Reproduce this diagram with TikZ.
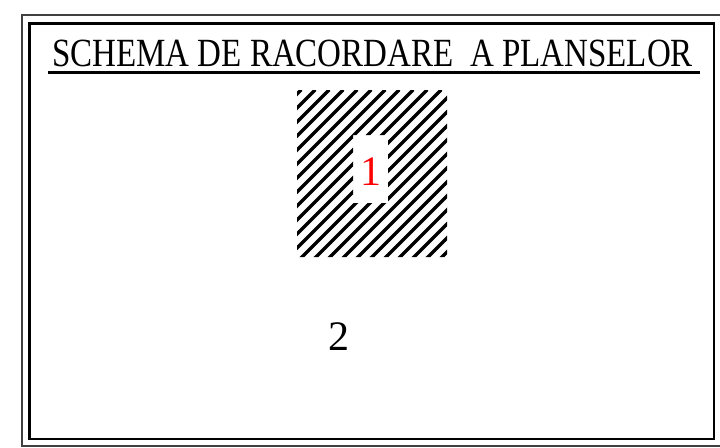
\documentclass[tikz,border=0pt]{standalone}
\usepackage{fontspec}
\setmainfont{Liberation Serif}
\usepackage[dvipsnames]{xcolor}
\tikzset{
	cifra/.style={font=\fontsize{42}{44}\selectfont, inner sep=0pt},
	hasura/.style={line width=3.2pt, line cap=round}
}
\begin{document}
\begin{tikzpicture}[x=1pt,y=-1pt]
		\useasboundingbox (0,0) rectangle (720,447);
		% chenar
		\draw[black!75, line width=1.2pt] (22,15) rectangle (726,446);
		\draw[line width=2.2pt] (29.5,23.5) rectangle (714,439);
		% titlu
		\node[font=\fontsize{40}{42}\selectfont, anchor=base, inner sep=0pt] (titlu) at (372.5,66) {\scalebox{0.825}[1]{SCHEMA DE RACORDARE\ \ A PLANSELOR}};
		\draw[line width=3pt] (48,72) -- (700,72);
		% plansa 1
		\begin{scope}[even odd rule]
		\clip (297,90) rectangle (447,257) (353,135) rectangle (388,203);
		\foreach \c in {4,18,...,330}
			\draw[hasura] (297+\c-220,310) -- (297+\c,90);
		\end{scope}
		\node[cifra, text=red] (p1) at (371,172) {1};
		% plansa 2
		\node[cifra] (p2) at (339,337) {2};
		\end{tikzpicture}
\end{document}
